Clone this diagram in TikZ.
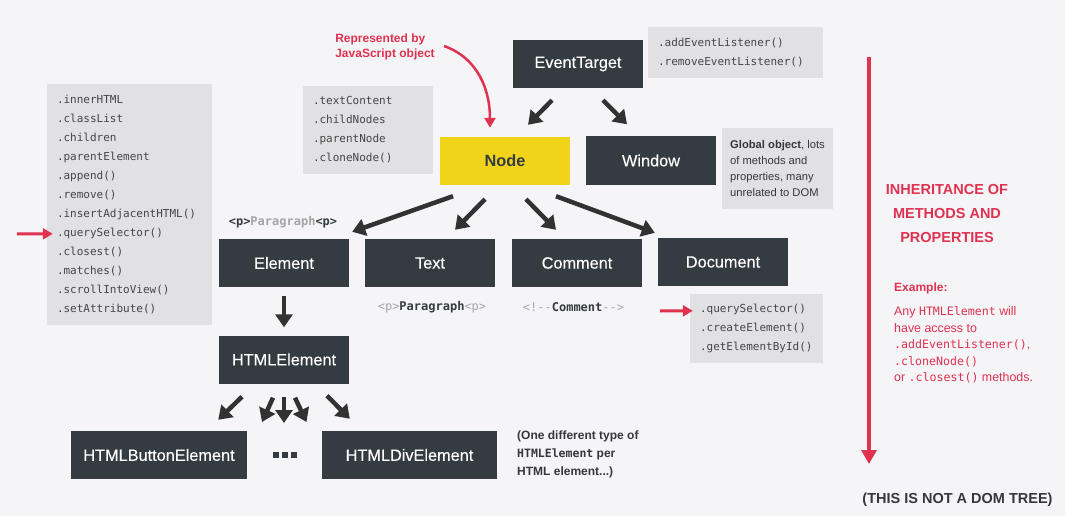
\documentclass[tikz,border=0pt]{standalone}
\usepackage{fontspec}
\setmainfont{Liberation Sans}
\setmonofont{DejaVu Sans Mono}
\newfontfamily\classfont[FakeBold=0.25]{Liberation Sans}
\usetikzlibrary{arrows.meta,calc}

\definecolor{bg}{RGB}{245,244,247}
\definecolor{boxdark}{RGB}{52,59,65}
\definecolor{nodeyellow}{RGB}{241,212,25}
\definecolor{infogray}{RGB}{225,224,227}
\definecolor{accent}{RGB}{223,50,80}
\definecolor{arrowdark}{RGB}{50,50,50}
\definecolor{codegray}{RGB}{70,70,70}
\definecolor{taggray}{RGB}{165,165,165}
\definecolor{notedark}{RGB}{55,55,58}

\tikzset{
  classbox/.style={fill=boxdark, text=white, minimum width=130, minimum height=48,
    inner sep=0, font=\classfont\fontsize{16.3}{19}\selectfont},
  infobox/.style={fill=infogray, text=codegray, inner sep=0, align=left},
  codelist/.style={infobox, font=\ttfamily\fontsize{11}{19}\selectfont},
  plaintext/.style={inner sep=0},
  inherit/.style={draw=arrowdark, line width=4.5, -{Triangle[width=17pt,length=13pt]}},
  pointer/.style={draw=accent, line width=3, -{Triangle[width=11pt,length=10pt]}},
}

\begin{document}
\begin{tikzpicture}[x=1pt,y=-1pt]
\useasboundingbox (0,0) rectangle (1065,516);
\fill[bg] (0,0) rectangle (1065,516);

% class boxes
\node[classbox, minimum width=130] (eventtarget) at (578,64) {EventTarget};
\node[classbox, fill=nodeyellow, text=boxdark, font=\bfseries\fontsize{16.3}{19}\selectfont] (nodeclass) at (505,161) {Node};
\node[classbox] (window) at (651,160.5) {Window};
\node[classbox] (element) at (284,263) {Element};
\node[classbox] (textclass) at (430,263) {Text};
\node[classbox] (comment) at (577,263) {Comment};
\node[classbox] (document) at (723,262) {Document};
\node[classbox] (htmlelement) at (284,359.5) {HTMLElement};
\node[classbox, minimum width=176] (button) at (159,455) {HTMLButtonElement};
\node[classbox, minimum width=175] (div) at (409.5,455) {HTMLDivElement};

% ellipsis between the element subtypes
\node[plaintext, minimum size=6] (dots) at (284.5,455) {};
\foreach \dx in {-9,0,9}
  \fill[boxdark] ($(dots)+(\dx-3,-3)$) rectangle ++(6,6);

% member lists
\node[codelist, minimum width=165, minimum height=241, text width=145] (elprops) at (129.5,204.5)
  {.innerHTML\\.classList\\.children\\.parentElement\\.append()\\.remove()\\.insertAdjacentHTML()\\.querySelector()\\.closest()\\.matches()\\.scrollIntoView()\\.setAttribute()};
\node[codelist, minimum width=130, minimum height=88, text width=110] (nodeprops) at (368,130)
  {.textContent\\.childNodes\\.parentNode\\.cloneNode()};
\node[codelist, minimum width=175, minimum height=51, text width=155] (etprops) at (735.5,52.5)
  {.addEventListener()\\.removeEventListener()};
\node[codelist, minimum width=133, minimum height=69, text width=113] (docprops) at (756.5,328.5)
  {.querySelector()\\.createElement()\\.getElementById()};
\node[infobox, minimum width=111, minimum height=81, text=notedark,
      font=\fontsize{11.2}{16.3}\selectfont] (globalnote) at (777.5,168.5)
  {\textbf{Global object}, lots\\of methods and\\properties, many\\unrelated to DOM};

% markup examples
\node[plaintext, font=\ttfamily\bfseries\fontsize{12}{14}\selectfont] (ptagtop) at (283,222)
  {\textcolor{boxdark}{<p>}\textcolor{taggray}{Paragraph}\textcolor{boxdark}{<p>}};
\node[plaintext, font=\ttfamily\fontsize{12}{14}\selectfont] (ptagtext) at (432,307)
  {\textcolor{taggray}{<p>}\textcolor{boxdark}{\bfseries Paragraph}\textcolor{taggray}{<p>}};
\node[plaintext, font=\ttfamily\fontsize{12}{14}\selectfont] (commenttag) at (573.5,307)
  {\textcolor{taggray}{<!{-}{-}}\textcolor{boxdark}{\bfseries Comment}\textcolor{taggray}{{-}{-}>}};

% notes
\node[plaintext, font=\bfseries\fontsize{12}{15}\selectfont, text=accent, align=left] (repnote) at (385,47)
  {Represented by\\JavaScript object};
\node[plaintext, font=\bfseries\fontsize{12}{18}\selectfont, text=notedark, align=left, anchor=north west] (typenote) at (517,430.5)
  {(One different type of\\{\ttfamily\fontsize{11.5}{18}\selectfont HTMLElement} per\\HTML element...)};
\node[plaintext, font=\bfseries\fontsize{14.5}{24}\selectfont, text=accent, align=center] (inhtitle) at (947,214)
  {INHERITANCE OF\\METHODS AND\\PROPERTIES};
\node[plaintext, font=\bfseries\fontsize{12}{14}\selectfont, text=accent, anchor=west] (exlabel) at (894,288) {Example:};
\node[plaintext, font=\fontsize{12.4}{16.5}\selectfont, text=accent, align=left, anchor=north west] (exbody) at (894,306.5)
  {Any {\ttfamily\fontsize{11.6}{16.5}\selectfont HTMLElement} will\\have access to\\{\ttfamily\fontsize{11.6}{16.5}\selectfont .addEventListener()},\\{\ttfamily\fontsize{11.6}{16.5}\selectfont .cloneNode()}\\or {\ttfamily\fontsize{11.6}{16.5}\selectfont .closest()} methods.};
\node[plaintext, font=\bfseries\fontsize{14.5}{16}\selectfont, text=notedark] (disclaimer) at (957.5,500)
  {(THIS IS NOT A DOM TREE)};

% inheritance arrows
\draw[inherit] ($(eventtarget.south)+(-26,12)$) -- ($(nodeclass.north)+(23,-12)$);
\draw[inherit] ($(eventtarget.south)+(25,12)$) -- ($(window.north)+(-24,-12)$);
\draw[inherit] ($(nodeclass.south)+(-52,11)$) -- ($(element.north east)+(3,-7)$);
\draw[inherit] ($(nodeclass.south)+(-20,14)$) -- ($(textclass.north)+(25,-9)$);
\draw[inherit] ($(nodeclass.south)+(21,14)$) -- ($(comment.north)+(-21,-9)$);
\draw[inherit] ($(nodeclass.south)+(51,11)$) -- ($(document.north west)+(-3,-5)$);
\draw[inherit] ($(element.south)+(0,9)$) -- ($(htmlelement.north)+(0,-8)$);
\draw[inherit] ($(htmlelement.south)+(-42,13)$) -- ($(button.north east)+(-29,-11)$);
\draw[inherit] ($(htmlelement.south)+(-11,14)$) -- ($(dots)+(-22.5,-33)$);
\draw[inherit] ($(htmlelement.south)+(0,13)$) -- ($(dots)+(-0.5,-32)$);
\draw[inherit] ($(htmlelement.south)+(11,14)$) -- ($(dots)+(22,-33)$);
\draw[inherit] ($(htmlelement.south)+(43,12)$) -- ($(div.north west)+(28,-12)$);

% red pointers
\coordinate (repstart) at (444,46);
\draw[pointer, line width=2.5] (repstart) .. controls (478,58) and (490,90) .. ($(nodeclass.north)+(-15,-9)$);
\coordinate (qsleft) at (17,234);
\draw[pointer] (qsleft) -- ($(elprops.north west)+(6,150)$);
\coordinate (qsright) at (660,311);
\draw[pointer] (qsright) -- ($(docprops.north west)+(3,17)$);

% direction of inheritance
\coordinate (inhtop) at (869,57);
\coordinate (inhbottom) at (869,464);
\draw[accent, line width=4, -{Triangle[width=15pt,length=14pt]}] (inhtop) -- (inhbottom);
\end{tikzpicture}
\end{document}
